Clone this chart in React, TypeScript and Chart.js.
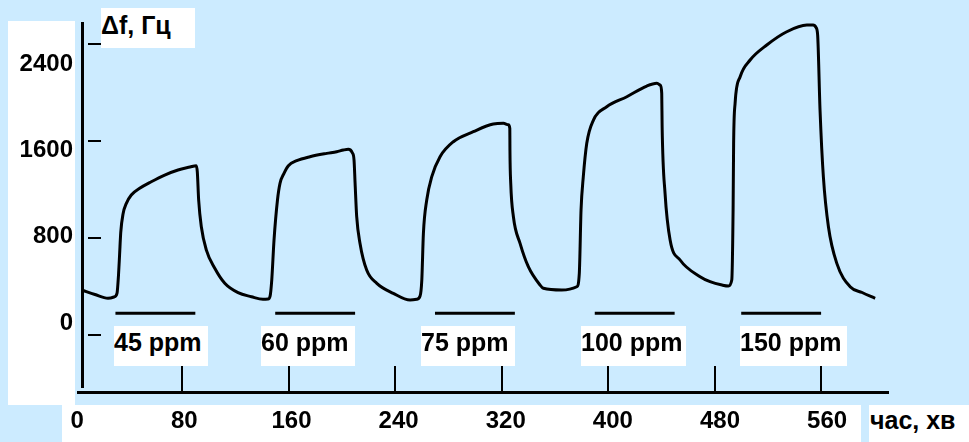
import React, { useEffect, useRef } from "react";
import { Chart, registerables } from "chart.js";

Chart.register(...registerables);

// ---------- data ----------
// time, minutes
const TIME_MIN = [
  4.9, 14.6, 24.4, 28.9, 31.2, 32.3, 33.1, 34.0, 35.7, 38.2, 41.9, 48.2, 56.9, 67.0, 77.0, 86.0, 90.7,
  91.5, 92.5, 94.5, 98.3, 104.6, 112.1, 122.1, 132.1, 140.8, 144.6, 146.1,
  147.4, 149.1, 151.7, 153.6, 156.6, 159.9, 166.2, 176.1, 188.7, 196.2, 201.2, 204.9, 207.9, 209.2, 210.0, 211.2, 213.7, 218.7, 226.3, 238.7, 251.3, 256.3, 258.8,
  260.1, 261.3, 263.8, 267.6, 273.8, 283.8, 298.8, 313.8, 321.4, 325.1, 326.2, 326.3, 326.9, 328.9, 333.9, 340.1, 348.9, 351.4, 365.2, 376.5, 378.4,
  379.7, 381.4, 384.0, 389.0, 399.0, 414.1, 429.1, 436.6, 439.3, 440.3, 440.6, 442.8, 446.6, 454.1, 469.1, 476.6, 485.6, 490.4, 492.9,
  493.9, 494.3, 495.4, 499.2, 506.7, 519.2, 534.2, 549.3, 554.0, 556.2, 557.4, 559.2, 561.7, 565.5, 571.8, 581.8, 590.8, 600.6,
];
// frequency shift, Hz
const SIGNAL_HZ = [
  306, 264, 229, 241, 278, 445, 630, 843, 1010, 1109, 1186, 1248, 1309, 1371, 1418, 1445, 1458,
  1399, 1140, 892, 676, 507, 368, 281, 244, 220, 222, 246,
  398, 769, 1140, 1294, 1387, 1458, 1504, 1541, 1572, 1587, 1603, 1610, 1578, 1510, 1294, 985, 738, 491, 368, 275, 213, 220, 250,
  398, 831, 1140, 1356, 1541, 1680, 1773, 1844, 1850, 1837, 1804, 1603, 1294, 985, 738, 522, 352, 322, 306, 336, 461,
  1047, 1356, 1665, 1881, 2004, 2097, 2196, 2221, 2203, 2128, 1819, 1202, 769, 584, 429, 383, 352, 343, 398,
  1047, 1665, 2036, 2282, 2437, 2576, 2699, 2761, 2761, 2738, 2669, 1974, 1356, 892, 553, 336, 283, 229,
];
// gas exposure intervals (start, end), minutes
const EXPOSURE_START = [30, 150, 270, 390, 500];
const EXPOSURE_END = [90, 210, 330, 450, 560];
const EXPOSURE_LEVEL = 90;
const CONCENTRATIONS = ["45 ppm", "60 ppm", "75 ppm", "100 ppm", "150 ppm"];

const X_TICKS = [0, 80, 160, 240, 320, 400, 480, 560];
const X_TICK_MARKS = [80, 160, 240, 320, 400, 480, 560];
const Y_TICKS = [0, 800, 1600, 2400];

const Y_TITLE = "Δf, Гц";
const X_TITLE = "час, хв";

// ---------- styling / layout ----------
const BLUE = "#CCEBFF";
const FONT = '"Liberation Sans", Arial, Helvetica, sans-serif';
const W = 969;
const H = 442;
// white panels [x0, y0, x1, y1]
const PANELS = [
  [8, 21, 75, 405],
  [62, 405, 861, 442],
];
const LABEL_BOXES = [
  [114, 326, 208, 366],
  [261, 326, 355, 366],
  [421, 326, 515, 366],
  [581, 326, 686, 366],
  [740, 326, 847, 366],
];

const decor = {
  id: "decor",
  beforeDraw(chart: any) {
    const { ctx } = chart;
    ctx.save();
    ctx.fillStyle = BLUE;
    ctx.fillRect(0, 0, chart.width, chart.height);
    ctx.fillStyle = "#ffffff";
    PANELS.forEach(([x0, y0, x1, y1]) => ctx.fillRect(x0, y0, x1 - x0, y1 - y0));
    ctx.restore();
  },
  afterDatasetsDraw(chart: any) {
    const { ctx } = chart;
    const xs = chart.scales.x;
    const yd = chart.scales.yd;
    ctx.save();
    ctx.strokeStyle = "#000";
    ctx.lineCap = "butt";
    // axes
    ctx.lineWidth = 3;
    ctx.beginPath();
    ctx.moveTo(82.5, 22);
    ctx.lineTo(82.5, 388);
    ctx.moveTo(77, 392.5);
    ctx.lineTo(889, 392.5);
    ctx.stroke();
    // inward x tick marks
    ctx.lineWidth = 2;
    ctx.beginPath();
    X_TICK_MARKS.forEach((v) => {
      const px = Math.round(xs.getPixelForValue(v));
      ctx.moveTo(px, 366);
      ctx.lineTo(px, 392);
    });
    // y tick dashes
    Y_TICKS.forEach((v) => {
      const py = Math.round(yd.getPixelForValue(v));
      ctx.moveTo(88, py);
      ctx.lineTo(101, py);
    });
    ctx.stroke();
    ctx.restore();
  },
};

const zeroPad = (s: any) => {
  s.paddingTop = 0;
  s.paddingBottom = 0;
  s.paddingLeft = 0;
  s.paddingRight = 0;
};

export default function App() {
  const ref = useRef<HTMLCanvasElement>(null);

  useEffect(() => {
    const curve = TIME_MIN.map((t, i) => ({ x: t, y: SIGNAL_HZ[i] }));
    const bars = EXPOSURE_START.map((s, i) => ({
      data: [
        { x: s, y: EXPOSURE_LEVEL },
        { x: EXPOSURE_END[i], y: EXPOSURE_LEVEL },
      ],
      borderColor: "#000",
      borderWidth: 3,
      pointRadius: 0,
      tension: 0,
      xAxisID: "x",
      yAxisID: "y",
    }));
    const tickFont = { family: FONT, size: 24, weight: "bold" as const };
    const chart = new Chart(ref.current as HTMLCanvasElement, {
      type: "line",
      data: {
        datasets: [
          {
            data: curve,
            borderColor: "#000",
            borderWidth: 3,
            pointRadius: 0,
            cubicInterpolationMode: "monotone",
            xAxisID: "x",
            yAxisID: "y",
            clip: false as any,
          },
          ...bars,
        ] as any,
      },
      options: {
        responsive: false,
        animation: false,
        devicePixelRatio: 1,
        layout: { padding: { left: 0, top: 8, right: 80, bottom: 0 } },
        plugins: { legend: { display: false }, tooltip: { enabled: false } },
        events: [],
        scales: {
          x: { type: "linear", min: 0, max: 611, display: false },
          xl: {
            type: "linear",
            axis: "x",
            position: "bottom",
            min: -1.3,
            max: 606.2,
            afterBuildTicks: (s: any) => {
              s.ticks = X_TICKS.map((v) => ({ value: v }));
            },
            afterFit: (s: any) => {
              s.height = 50;
              zeroPad(s);
            },
            ticks: {
              font: tickFont,
              color: "#000",
              padding: 15,
              autoSkip: false,
              maxRotation: 0,
              minRotation: 0,
              callback: (v: any) => String(v),
            },
            grid: { display: false, drawTicks: false },
            border: { display: false },
          } as any,
          y: {
            type: "linear",
            position: "left",
            min: -639,
            max: 2919,
            afterBuildTicks: (s: any) => {
              s.ticks = Y_TICKS.map((v) => ({ value: v }));
            },
            afterFit: (s: any) => {
              s.width = 75.5;
              zeroPad(s);
            },
            ticks: { font: tickFont, color: "#000", padding: 2.5, autoSkip: false, callback: (v: any) => String(v) },
            grid: { display: false, drawTicks: false },
            border: { display: false },
          } as any,
          yd: { type: "linear", position: "left", min: -470, max: 2700, display: false } as any,
        },
      },
      plugins: [decor],
    });
    return () => chart.destroy();
  }, []);

  const boxStyle = (x0: number, y0: number, x1: number, y1: number, lh: number): React.CSSProperties => ({
    position: "absolute",
    left: x0,
    top: y0,
    width: x1 - x0,
    height: y1 - y0,
    background: "#fff",
    fontFamily: FONT,
    fontWeight: "bold",
    fontSize: 25,
    lineHeight: `${lh}px`,
    color: "#000",
    whiteSpace: "nowrap",
    overflow: "hidden",
  });

  return (
    <div style={{ position: "absolute", left: 0, top: 0, width: W, height: H, background: BLUE, overflow: "hidden" }}>
      <canvas ref={ref} width={W} height={H} style={{ position: "absolute", left: 0, top: 0 }} />
      <div style={boxStyle(101, 8, 195, 48, 34)}>{Y_TITLE}</div>
      <div style={{ ...boxStyle(869, 405, 969, 442, 31), paddingLeft: 1, boxSizing: "border-box" }}>{X_TITLE}</div>
      {CONCENTRATIONS.map((c, i) => {
        const [x0, y0, x1, y1] = LABEL_BOXES[i];
        return (
          <div key={c} style={boxStyle(x0, y0, x1, y1, 32)}>
            {c}
          </div>
        );
      })}
    </div>
  );
}
